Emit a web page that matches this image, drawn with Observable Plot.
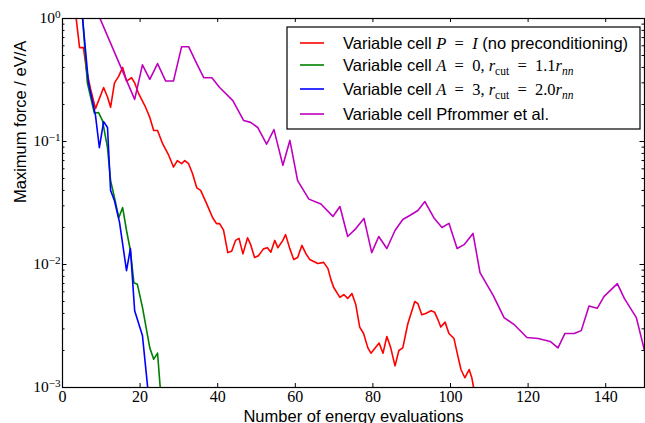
<!DOCTYPE html>
<html><head><meta charset="utf-8">
<script src="https://cdn.jsdelivr.net/npm/d3@7"></script>
<script src="https://cdn.jsdelivr.net/npm/@observablehq/plot@0.6"></script>
<style>html,body{margin:0;padding:0;background:#fff;} svg{display:block}</style>
</head><body><div id="chart"></div>
<script>
// ---- data ----
const xTicks = [0, 20, 40, 60, 80, 100, 120, 140];
const yTicks = [1, 0.1, 0.01, 0.001];
const xLabel = "Number of energy evaluations";
const yLabel = "Maximum force / eV/A";

const redX = [3.3, 4.4, 5.4, 6.2, 7.2, 8.5, 9.3, 10.6, 11.6, 12.4, 13.4, 14.5, 15.5, 16.5, 17.8, 18.6, 19.6, 21.4, 22.5, 23.5, 24.5, 25.8, 27.4, 28.6, 29.6, 30.7, 31.5, 32.5, 33.5, 34.6, 35.6, 37.2, 38.7, 39.7, 40.5, 41.5, 42.6, 43.6, 44.6, 45.5, 46.5, 47.7, 48.5, 49.5, 50.5, 51.8, 52.8, 53.7, 54.7, 55.5, 56.8, 57.5, 58.6, 59.6, 60.6, 61.7, 62.7, 63.7, 65.8, 67.3, 68.4, 69.2, 69.9, 71.5, 72.5, 73.5, 74.6, 75.6, 76.6, 77.6, 78.7, 79.5, 81.6, 82.6, 83.6, 84.6, 85.7, 86.7, 87.7, 89.0, 90.8, 91.6, 92.6, 93.6, 95.0, 95.9, 96.7, 97.5, 98.6, 99.6, 100.9, 101.9, 102.7, 103.7, 104.8, 105.5, 106.2];
const redY = [1.15, 0.58, 0.58, 0.378, 0.27, 0.185, 0.215, 0.275, 0.23, 0.19, 0.30, 0.34, 0.40, 0.31, 0.33, 0.30, 0.246, 0.19, 0.157, 0.123, 0.123, 0.096, 0.077, 0.062, 0.07, 0.066, 0.07, 0.066, 0.055, 0.042, 0.040, 0.031, 0.024, 0.0215, 0.0215, 0.019, 0.0125, 0.0128, 0.0157, 0.0163, 0.0122, 0.0165, 0.0145, 0.0114, 0.0118, 0.0134, 0.0137, 0.0126, 0.0157, 0.0137, 0.0157, 0.0175, 0.0134, 0.011, 0.0114, 0.0143, 0.0123, 0.011, 0.0102, 0.0104, 0.0093, 0.0075, 0.0065, 0.0054, 0.0057, 0.0053, 0.0058, 0.0047, 0.0031, 0.00275, 0.0021, 0.0019, 0.0023, 0.0019, 0.0026, 0.0021, 0.0015, 0.002, 0.0021, 0.0033, 0.005, 0.0048, 0.0039, 0.0040, 0.0042, 0.0041, 0.0036, 0.0031, 0.0034, 0.00275, 0.0025, 0.0018, 0.0014, 0.0012, 0.0014, 0.0012, 0.0009];

const greenX = [5.1, 6.4, 8.2, 9.3, 10.3, 11.6, 12.4, 13.4, 14.5, 15.5, 16.5, 17.5, 18.4, 19.3, 20.6, 22.5, 23.5, 24.5, 25.3];
const greenY = [1.1, 0.30, 0.17, 0.172, 0.148, 0.089, 0.048, 0.035, 0.024, 0.029, 0.0189, 0.013, 0.0071, 0.0069, 0.0045, 0.0021, 0.0017, 0.0019, 0.0009];

const blueX = [5.0, 6.7, 8.5, 9.5, 10.6, 11.6, 12.4, 13.4, 14.7, 16.5, 17.5, 18.6, 20.6, 22.1];
const blueY = [1.15, 0.30, 0.163, 0.089, 0.145, 0.13, 0.04, 0.033, 0.022, 0.0089, 0.0135, 0.0042, 0.00265, 0.0009];

const magX = [9.0, 18.6, 20.6, 22.5, 24.5, 26.6, 28.6, 30.7, 32.5, 34.6, 36.4, 38.5, 40.5, 43.9, 46.7, 48.5, 50.3, 52.6, 54.5, 56.8, 58.6, 60.6, 63.5, 66.6, 69.7, 71.5, 73.5, 75.6, 77.7, 79.7, 81.5, 83.6, 85.7, 87.7, 89.5, 91.6, 93.4, 95.7, 97.8, 99.6, 101.7, 103.5, 105.8, 107.6, 111.0, 113.8, 116.4, 119.7, 122.6, 125.7, 127.7, 129.5, 131.9, 133.7, 135.7, 137.8, 139.6, 143.0, 144.8, 147.9, 150.0];
const magY = [1.12, 0.22, 0.42, 0.32, 0.43, 0.31, 0.31, 0.59, 0.59, 0.43, 0.33, 0.33, 0.275, 0.215, 0.148, 0.143, 0.13, 0.095, 0.125, 0.064, 0.102, 0.048, 0.034, 0.031, 0.0246, 0.0296, 0.0169, 0.0196, 0.0237, 0.0125, 0.0169, 0.0135, 0.0189, 0.0232, 0.025, 0.0275, 0.0325, 0.024, 0.020, 0.0216, 0.0135, 0.0145, 0.0179, 0.0086, 0.0056, 0.0037, 0.00325, 0.00255, 0.0025, 0.00237, 0.0021, 0.00275, 0.00275, 0.0029, 0.0046, 0.0044, 0.0055, 0.007, 0.0053, 0.0037, 0.002];

const seriesColors = ["#ff0000", "#008000", "#0000ff", "#bf00bf"];

// ---- layout ----
const W = 645, H = 423, mL = 62, mR = 1, mT = 18, mB = 36;
const innerW = W - mL - mR, innerH = H - mT - mB;

const rows = (xs, ys) => xs.map((x, i) => ({x, y: ys[i]}));
const series = [rows(redX, redY), rows(greenX, greenY), rows(blueX, blueY), rows(magX, magY)];

const minorY = [];
for (let e = -3; e < 0; e++) for (let m = 2; m <= 9; m++) minorY.push(m * Math.pow(10, e));

const serif = "'Liberation Serif', 'DejaVu Serif', serif";
const sans = "'Liberation Sans', Arial, Helvetica, sans-serif";

const chart = Plot.plot({
  width: W, height: H,
  marginLeft: mL, marginRight: mR, marginTop: mT, marginBottom: mB,
  style: {background: "white", fontFamily: sans, overflow: "visible", color: "black"},
  x: {domain: [0, 150], label: null},
  y: {type: "log", domain: [1e-3, 1], label: null},
  marks: [
    ...series.map((d, i) => Plot.line(d, {x: "x", y: "y", stroke: seriesColors[i], strokeWidth: 1.6, clip: true})),
    Plot.tickX(xTicks, {x: d => d, insetTop: innerH - 4, stroke: "black"}),
    Plot.tickX(xTicks, {x: d => d, insetBottom: innerH - 4, stroke: "black"}),
    Plot.tickY(yTicks, {y: d => d, insetRight: innerW - 4.5, stroke: "black"}),
    Plot.tickY(yTicks, {y: d => d, insetLeft: innerW - 4.5, stroke: "black"}),
    Plot.tickY(minorY, {y: d => d, insetRight: innerW - 2.5, stroke: "black"}),
    Plot.tickY(minorY, {y: d => d, insetLeft: innerW - 2.5, stroke: "black"}),
    Plot.frame({stroke: "black", strokeWidth: 1.2}),
    Plot.axisX({ticks: xTicks, tickSize: 0, tickPadding: 3, fontSize: 16, fontFamily: serif, label: null, tickFormat: d => String(d)}),
    Plot.axisY({ticks: yTicks, tickSize: 0, tickPadding: 2, fontSize: 15.5, fontFamily: serif, label: null,
      tickFormat: d => "10^" + Math.round(Math.log10(d))}),
    Plot.text([yLabel], {text: d => d, frameAnchor: "left", dx: -42, rotate: -90, fontSize: 16.5, fontFamily: sans, fill: "black"}),
    Plot.text([xLabel], {text: d => d, frameAnchor: "bottom", dy: 34, fontSize: 16.5, fontFamily: sans, fill: "black"})
  ]
});

document.getElementById("chart").appendChild(chart);

// superscripts for the log tick labels
d3.select(chart).selectAll('g[aria-label="y-axis tick label"] text').each(function() {
  const s = this.textContent;
  if (!s.startsWith("10^")) return;
  const exp = s.slice(3).replace("-", "\u2212");
  const t = d3.select(this);
  t.text(null);
  t.append("tspan").text("10");
  t.append("tspan").attr("dy", "-0.45em").attr("font-size", "0.72em").text(exp);
});

// ---- legend ----
const eq = "\u2002=\u2002";
const legendRows = [
  [{t: "Variable cell "}, {t: "P", m: 1, i: 1}, {t: eq, m: 1}, {t: "I", m: 1, i: 1}, {t: " (no preconditioning)"}],
  [{t: "Variable cell "}, {t: "A", m: 1, i: 1}, {t: eq + "0, ", m: 1}, {t: "r", m: 1, i: 1}, {t: "cut", m: 1, s: 1}, {t: eq + "1.1", m: 1}, {t: "r", m: 1, i: 1}, {t: "nn", m: 1, i: 1, s: 1}],
  [{t: "Variable cell "}, {t: "A", m: 1, i: 1}, {t: eq + "3, ", m: 1}, {t: "r", m: 1, i: 1}, {t: "cut", m: 1, s: 1}, {t: eq + "2.0", m: 1}, {t: "r", m: 1, i: 1}, {t: "nn", m: 1, i: 1, s: 1}],
  [{t: "Variable cell Pfrommer et al."}]
];
const svg = d3.select(chart);
const lg = svg.append("g").attr("aria-label", "legend");
lg.append("rect").attr("x", 287).attr("y", 27).attr("width", 353).attr("height", 102)
  .attr("fill", "white").attr("stroke", "black").attr("stroke-width", 1.2);
const rowY = [43, 65, 89, 114];
legendRows.forEach((segs, k) => {
  const y = rowY[k];
  lg.append("line").attr("x1", 300).attr("x2", 324).attr("y1", y).attr("y2", y)
    .attr("stroke", seriesColors[k]).attr("stroke-width", 1.6);
  const txt = lg.append("text").attr("x", 343).attr("y", y + 6).attr("fill", "black")
    .attr("text-anchor", "start")
    .attr("font-family", sans).attr("font-size", 16.5);
  let shift = 0;
  segs.forEach(s => {
    const ts = txt.append("tspan").text(s.t);
    if (s.m) ts.attr("font-family", serif).attr("font-size", s.s ? 11.5 : 16.5);
    if (s.i) ts.attr("font-style", "italic");
    const want = s.s ? 4 : 0;
    if (want !== shift) { ts.attr("dy", want - shift); shift = want; }
  });
});
</script>
</body></html>
